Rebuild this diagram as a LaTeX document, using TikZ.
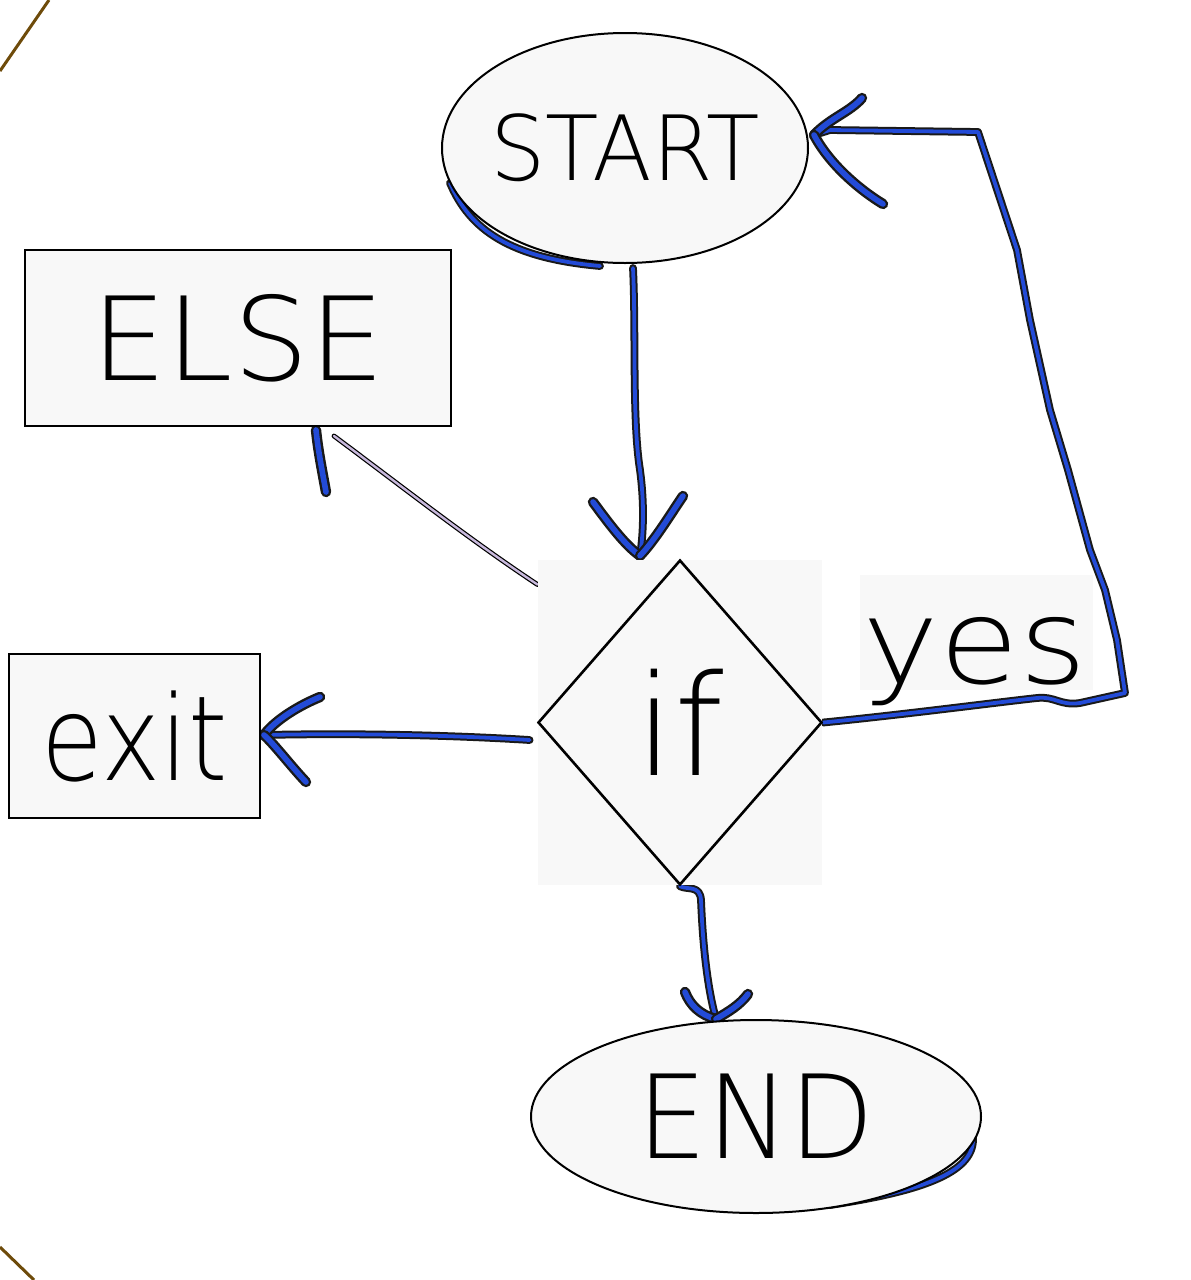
\documentclass[tikz,border=0pt]{standalone}
\usepackage{fontspec}
\setmainfont{DejaVu Sans ExtraLight}
\usetikzlibrary{shapes.geometric,calc,backgrounds}
\pgfdeclarelayer{paper}
\pgfsetlayers{paper,background,main}
\definecolor{ink}{RGB}{35,75,215}
\definecolor{paleink}{RGB}{200,185,220}
\definecolor{edge}{RGB}{110,75,10}
\definecolor{boxfill}{RGB}{248,248,248}
\begin{document}
\begin{tikzpicture}[x=0.5pt,y=-0.5pt,
  shapebox/.style={draw=black, line width=1pt, fill=boxfill, inner sep=0pt},
  ell/.style={shapebox, ellipse},
  rbox/.style={shapebox, rectangle},
  plate/.style={fill=boxfill, inner sep=0pt},
  pen/.style={draw=black!90, line width=1pt, double=ink, double distance=1.9pt, line cap=round, line join=round},
  barb/.style={pen, line width=1.2pt, double distance=2.8pt},
  thinpen/.style={draw=black, line width=0.6pt, double=paleink, double distance=1.2pt, line cap=round},
  photoedge/.style={draw=edge, line width=1.5pt}]
\useasboundingbox (0,0) rectangle (1190,1280);
\begin{pgfonlayer}{paper}
\fill[white] (0,0) rectangle (1190,1280);
\end{pgfonlayer}
\draw[photoedge] (0,71) -- (49,0);
\draw[photoedge] (0,1247) -- (34,1280);

\node[ell, minimum width=183pt, minimum height=115pt, font=\fontsize{45}{48}\selectfont] (start) at (625,148) {\makebox[0pt]{\scalebox{0.97}[1]{START}}};
\node[rbox, minimum width=213pt, minimum height=88pt, font=\fontsize{58}{60}\selectfont] (else) at (238,338) {\scalebox{1.03}[1]{ELSE}};
\node[rbox, minimum width=125.5pt, minimum height=82pt, font=\fontsize{59}{60}\selectfont] (exit) at (134.5,736) {\scalebox{0.85}[1]{exit}};
\node[plate, minimum width=142pt, minimum height=162.5pt] (ifbg) at (680,722.5) {};
\node[diamond, draw=black, line width=1.3pt, aspect=0.874, minimum width=142pt, minimum height=162.5pt, inner sep=0pt, font=\fontsize{70}{72}\selectfont] (if) at (680,722.5) {if\hspace{10pt}};
\node[plate, minimum width=116.5pt, minimum height=57.5pt] (yesbg) at (976.5,632.5) {};
\node[anchor=base, inner sep=0pt, font=\fontsize{59}{60}\selectfont] (yes) at (975,683) {\scalebox{1.1}[1]{yes}};
\node[ell, minimum width=225pt, minimum height=96.5pt, font=\fontsize{58}{60}\selectfont] (end) at (756,1116.5) {\scalebox{0.95}[1]{END}};

\begin{pgfonlayer}{background}
% START -> if
\coordinate (tipA) at ($(if.north)+(-40,-3)$);
\draw[pen] ($(start.south)+(8,4)$) .. controls (636,330) and (632,420) .. (640,470) .. controls (644,500) and (644,530) .. (tipA);
\draw[barb] (593,502) .. controls (610,525) and (625,545) .. (tipA);
\draw[barb] (683,496) .. controls (670,515) and (655,540) .. (tipA);
\draw[pen] (450,183) .. controls (470,230) and (510,258) .. (600,266);
% if -> END
\coordinate (tipE) at ($(end.north)+(-40,0)$);
\draw[pen] (if.south) .. controls (688,890) and (700,885) .. (701,900) .. controls (703,950) and (708,990) .. (tipE);
\draw[barb] (685,992) .. controls (690,1005) and (700,1015) .. (tipE);
\draw[barb] (748,994) .. controls (740,1005) and (728,1012) .. (tipE);
\draw[pen] (973,1137) .. controls (975,1170) and (930,1190) .. (830,1205);
% if -> exit
\coordinate (tipX) at ($(exit.east)+(3,-1)$);
\draw[pen] ($(ifbg.west)+(-8,17.5)$) .. controls (450,735) and (350,733) .. (tipX);
\draw[barb] (320,697) .. controls (300,705) and (275,720) .. (tipX);
\draw[barb] (306,782) .. controls (290,765) and (275,745) .. (tipX);
% if -> ELSE
\coordinate (tipL) at ($(else.south west)+(310,9)$);
\draw[thinpen] ($(ifbg.north west)+(0,25)$) .. controls (470,540) and (400,485) .. (tipL);
\draw[barb] (316,430) .. controls (318,450) and (322,470) .. (326,492);
% if -> START (yes loop)
\coordinate (tipS) at ($(start.east)+(5,-13)$);
\draw[pen] (if.east) .. controls (900,715) and (1000,702) .. (1037,698) .. controls (1055,696) and (1060,706) .. (1080,703) -- (1125,693) -- (1117,640) -- (1105,590) -- (1090,550) -- (1068,470) -- (1050,410) -- (1030,320) -- (1017,250) -- (978,132) -- (830,130) -- (tipS);
\draw[barb] (862,98) .. controls (850,112) and (830,118) .. (tipS);
\draw[barb] (883,204) .. controls (860,190) and (830,165) .. (tipS);
\end{pgfonlayer}
\end{tikzpicture}
\end{document}
